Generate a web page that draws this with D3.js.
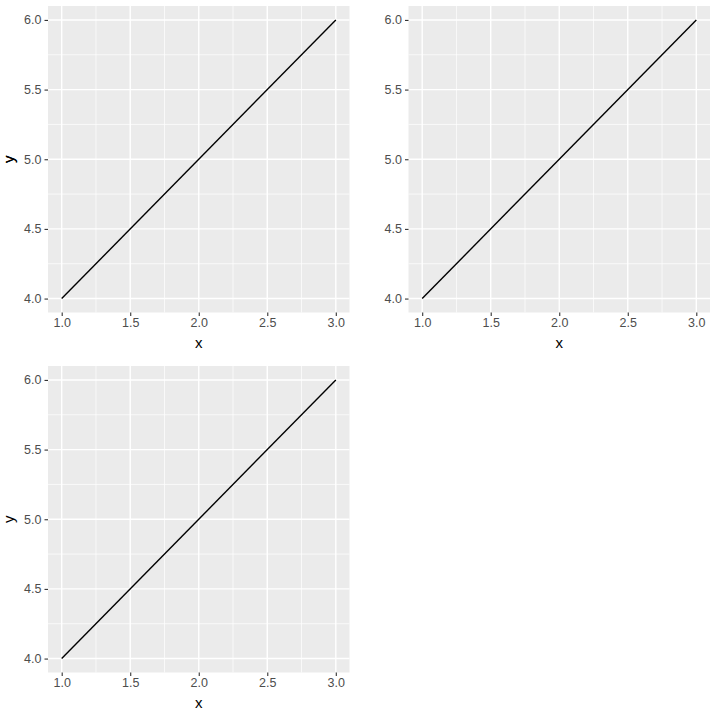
<!DOCTYPE html>
<html>
<head>
<meta charset="utf-8">
<script src="https://cdn.jsdelivr.net/npm/d3@7"></script>
<style>
  body { margin: 0; background: #fff; }
  svg { display: block; font-family: "Liberation Sans", Arial, sans-serif; }
</style>
</head>
<body>
<svg width="715" height="715"></svg>
<script>
// данные: одна линия, повторяется в трёх панелях
const xValues = [1, 2, 3];
const yValues = [4, 5, 6];
const xTicks = [1.0, 1.5, 2.0, 2.5, 3.0];
const yTicks = [4.0, 4.5, 5.0, 5.5, 6.0];
const xMinor = [1.25, 1.75, 2.25, 2.75];
const yMinor = [4.25, 4.75, 5.25, 5.75];

// позиции панелей (левый верхний угол области построения)
const panels = [
    { left: 48, top: 6 },
    { left: 408.5, top: 6 },
    { left: 48, top: 366 }
];
const plotW = 301.5;
const plotH = 306.5;

const svg = d3.select("svg");

const data = xValues.map((x, i) => ({ x: x, y: yValues[i] }));

function drawPanel(p) {
    const g = svg.append("g").attr("transform", `translate(${p.left},${p.top})`);

    // расширение осей на 5%, как в ggplot
    const xPad = (d3.max(xValues) - d3.min(xValues)) * 0.05;
    const yPad = (d3.max(yValues) - d3.min(yValues)) * 0.05;
    const x = d3.scaleLinear()
        .domain([d3.min(xValues) - xPad, d3.max(xValues) + xPad])
        .range([0, plotW]);
    const y = d3.scaleLinear()
        .domain([d3.min(yValues) - yPad, d3.max(yValues) + yPad])
        .range([plotH, 0]);

    g.append("rect")
        .attr("width", plotW)
        .attr("height", plotH)
        .attr("fill", "#EBEBEB");

    // сетка: сначала второстепенная, потом основная
    g.selectAll(".minor-x").data(xMinor).join("line")
        .attr("x1", d => x(d)).attr("x2", d => x(d))
        .attr("y1", 0).attr("y2", plotH)
        .attr("stroke", "#fff").attr("stroke-width", 0.7);
    g.selectAll(".minor-y").data(yMinor).join("line")
        .attr("y1", d => y(d)).attr("y2", d => y(d))
        .attr("x1", 0).attr("x2", plotW)
        .attr("stroke", "#fff").attr("stroke-width", 0.7);
    g.selectAll(".major-x").data(xTicks).join("line")
        .attr("x1", d => x(d)).attr("x2", d => x(d))
        .attr("y1", 0).attr("y2", plotH)
        .attr("stroke", "#fff").attr("stroke-width", 1.4);
    g.selectAll(".major-y").data(yTicks).join("line")
        .attr("y1", d => y(d)).attr("y2", d => y(d))
        .attr("x1", 0).attr("x2", plotW)
        .attr("stroke", "#fff").attr("stroke-width", 1.4);

    // оси
    const xAxis = g.append("g")
        .attr("transform", `translate(0,${plotH})`)
        .call(d3.axisBottom(x).tickValues(xTicks).tickFormat(d3.format(".1f")).tickSize(3.5).tickPadding(2.5));
    const yAxis = g.append("g")
        .call(d3.axisLeft(y).tickValues(yTicks).tickFormat(d3.format(".1f")).tickSize(3.5).tickPadding(3));

    [xAxis, yAxis].forEach(a => {
        a.select(".domain").remove();
        a.selectAll(".tick line").attr("stroke", "#333333").attr("stroke-width", 1.1);
        a.selectAll(".tick text")
            .attr("fill", "#4D4D4D")
            .style("font-size", "12.5px")
            .style("font-family", "Liberation Sans, Arial, sans-serif");
    });

    // подписи осей
    g.append("text")
        .attr("x", plotW / 2)
        .attr("y", plotH + 35)
        .attr("text-anchor", "middle")
        .style("font-size", "15px")
        .text("x");
    g.append("text")
        .attr("transform", `translate(${-p.left + 14},${plotH / 2}) rotate(-90)`)
        .attr("text-anchor", "middle")
        .style("font-size", "15px")
        .text("y");

    const line = d3.line()
        .x(d => x(d.x))
        .y(d => y(d.y));
    g.append("path")
        .attr("d", line(data))
        .attr("fill", "none")
        .attr("stroke", "#000")
        .attr("stroke-width", 1.4);
}

panels.forEach(drawPanel);
</script>
</body>
</html>
